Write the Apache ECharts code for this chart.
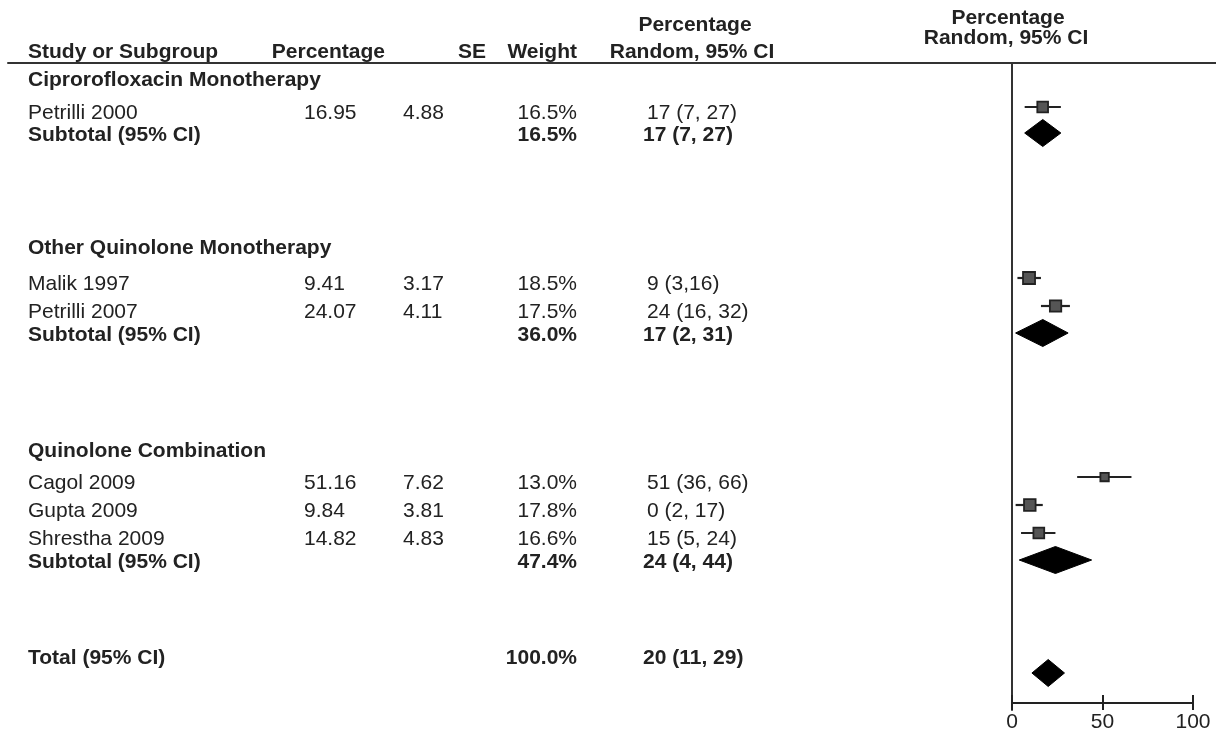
<!DOCTYPE html>
<html><head><meta charset="utf-8">
<script src="https://cdn.jsdelivr.net/npm/echarts@6/dist/echarts.min.js"></script>
<style>html,body{margin:0;padding:0;background:#fff}#c{width:1216px;height:733px}</style>
</head><body><div id="c"></div>
<script>
// ---------------- data ----------------
const groups = ['Ciprorofloxacin Monotherapy', 'Other Quinolone Monotherapy', 'Quinolone Combination'];
const studies = ['Petrilli 2000', 'Malik 1997', 'Petrilli 2007', 'Cagol 2009', 'Gupta 2009', 'Shrestha 2009'];
const studyGroup = [0, 1, 1, 2, 2, 2];
const percentage = [16.95, 9.41, 24.07, 51.16, 9.84, 14.82];
const se = [4.88, 3.17, 4.11, 7.62, 3.81, 4.83];
const weight = [16.5, 18.5, 17.5, 13.0, 17.8, 16.6];
const ciLow = [7, 3, 16, 36, 2, 5];
const ciHigh = [27, 16, 32, 66, 17, 24];
const ciLabels = ['17 (7, 27)', '9 (3,16)', '24 (16, 32)', '51 (36, 66)', '0 (2, 17)', '15 (5, 24)'];
const subtotalWeight = [16.5, 36.0, 47.4];
const subtotalEst = [17, 17, 24];
const subtotalLow = [7, 2, 4];
const subtotalHigh = [27, 31, 44];
const totalWeight = 100.0;
const totalEst = 20;
const totalLow = 11;
const totalHigh = 29;
const xTicks = [0, 50, 100];
const headerLabels = ['Study or Subgroup', 'Percentage', 'SE', 'Weight', 'Percentage', 'Random, 95% CI'];

// ---------------- layout (px below the header rule) ----------------
const groupTextY = [17, 185, 388];
const studyMarkY = [44, 215, 243, 414, 442, 470];
const subMarkY = [70, 270, 497];
const totalMarkY = 610;
const totalTextY = 595;
const studyTextDY = 6, subTextDY = 2;
const col = { name: 28, pct: 304, se: 403, weightR: 577, ci: 647, ciBold: 643 };
const FONT = '"Liberation Sans", Arial, sans-serif';
const F_N = '21px ' + FONT, F_B = 'bold 21px ' + FONT;
const INK = '#222';

// ---------------- build table rows ----------------
const textRows = [];
groups.forEach((g, gi) => {
  textRows.push({ y: groupTextY[gi], cells: [[col.name, g, 'left', F_B]] });
  studies.forEach((s, i) => {
    if (studyGroup[i] !== gi) return;
    textRows.push({ y: studyMarkY[i] + studyTextDY, cells: [
      [col.name, s, 'left', F_N],
      [col.pct, percentage[i].toFixed(2), 'left', F_N],
      [col.se, se[i].toFixed(2), 'left', F_N],
      [col.weightR, weight[i].toFixed(1) + '%', 'right', F_N],
      [col.ci, ciLabels[i], 'left', F_N]
    ]});
  });
  textRows.push({ y: subMarkY[gi] + subTextDY, cells: [
    [col.name, 'Subtotal (95% CI)', 'left', F_B],
    [col.weightR, subtotalWeight[gi].toFixed(1) + '%', 'right', F_B],
    [col.ciBold, subtotalEst[gi] + ' (' + subtotalLow[gi] + ', ' + subtotalHigh[gi] + ')', 'left', F_B]
  ]});
});
textRows.push({ y: totalTextY, cells: [
  [col.name, 'Total (95% CI)', 'left', F_B],
  [col.weightR, totalWeight.toFixed(1) + '%', 'right', F_B],
  [col.ciBold, totalEst + ' (' + totalLow + ', ' + totalHigh + ')', 'left', F_B]
]});

const studyPts = studies.map((s, i) => [percentage[i], studyMarkY[i], ciLow[i], ciHigh[i], weight[i]]);
const diamonds = subtotalEst.map((e, i) => [e, subMarkY[i], subtotalLow[i], subtotalHigh[i]]);
diamonds.push([totalEst, totalMarkY, totalLow, totalHigh]);

const TOP = 63, H = 647;
const chart = echarts.init(document.getElementById('c'), null, { renderer: 'canvas' });

function hdr(text, x, y, align) {
  return { type: 'text', x: x, y: y, silent: true,
    style: { text: text, font: F_B, fill: INK, textAlign: align, align: align, textVerticalAlign: 'middle', verticalAlign: 'middle' } };
}

const option = {
  backgroundColor: '#fff',
  animation: false,
  grid: [
    { left: 1012, width: 181, top: TOP, height: H },
    { left: 8, right: 0, top: TOP, height: H }
  ],
  xAxis: [
    { gridIndex: 0, type: 'value', min: xTicks[0], max: xTicks[2], interval: xTicks[1] - xTicks[0], position: 'bottom', offset: -7,
      axisLine: { show: true, onZero: false, lineStyle: { color: INK, width: 2 } },
      axisTick: { show: true, inside: false, length: 7, lineStyle: { color: INK, width: 2 } },
      axisLabel: { show: true, color: INK, fontSize: 21, fontFamily: FONT, margin: 9 },
      splitLine: { show: false } },
    { gridIndex: 0, type: 'value', min: xTicks[0], max: xTicks[2], interval: xTicks[1] - xTicks[0], position: 'bottom', offset: -7,
      axisLine: { show: false, onZero: false },
      axisTick: { show: true, inside: true, length: 8, lineStyle: { color: INK, width: 2 } },
      axisLabel: { show: false }, splitLine: { show: false } },
    { gridIndex: 1, type: 'value', min: 8, max: 1216, position: 'top',
      axisLine: { show: true, onZero: false, lineStyle: { color: '#333', width: 2 } },
      axisTick: { show: false }, axisLabel: { show: false }, splitLine: { show: false } }
  ],
  yAxis: [
    { gridIndex: 0, type: 'value', min: 0, max: H, inverse: true, position: 'left',
      axisLine: { show: true, onZero: false, lineStyle: { color: '#333', width: 2 } },
      axisTick: { show: false }, axisLabel: { show: false }, splitLine: { show: false } },
    { gridIndex: 1, type: 'value', min: 0, max: H, inverse: true, show: false }
  ],
  graphic: [
    hdr(headerLabels[0], col.name, 52, 'left'),
    hdr(headerLabels[1], 385, 52, 'right'),
    hdr(headerLabels[2], 486, 52, 'right'),
    hdr(headerLabels[3], 577, 52, 'right'),
    hdr(headerLabels[4], 695, 25, 'center'),
    hdr(headerLabels[5], 692, 52, 'center'),
    hdr(headerLabels[4], 1008, 18, 'center'),
    hdr(headerLabels[5], 1006, 38, 'center')
  ],
  series: [
    { // table text
      type: 'custom', xAxisIndex: 2, yAxisIndex: 1, clip: false, silent: true,
      data: textRows.map((r, i) => [i]),
      renderItem: function (params, api) {
        const r = textRows[api.value(0)];
        return { type: 'group', children: r.cells.map(c => {
          const p = api.coord([c[0], r.y]);
          return { type: 'text', x: p[0], y: p[1],
            style: { text: c[1], font: c[3], fill: INK, textAlign: c[2], align: c[2], textVerticalAlign: 'middle', verticalAlign: 'middle' } };
        }) };
      }
    },
    { // confidence interval whiskers
      type: 'custom', xAxisIndex: 0, yAxisIndex: 0, clip: false, silent: true,
      data: studyPts,
      encode: { x: [2, 3], y: 1 },
      renderItem: function (params, api) {
        const a = api.coord([api.value(2), api.value(1)]);
        const b = api.coord([api.value(3), api.value(1)]);
        return { type: 'line', shape: { x1: a[0], y1: a[1], x2: b[0], y2: b[1] },
          style: { stroke: INK, lineWidth: 2.2 } };
      }
    },
    { // study point estimates
      type: 'scatter', xAxisIndex: 0, yAxisIndex: 0, silent: true,
      symbol: 'rect',
      symbolSize: function (v) { return v[4] * 0.65; },
      data: studyPts,
      itemStyle: { color: '#555', borderColor: INK, borderWidth: 1.8, opacity: 1 }
    },
    { // pooled diamonds
      type: 'custom', xAxisIndex: 0, yAxisIndex: 0, clip: false, silent: true,
      data: diamonds,
      encode: { x: [2, 3], y: 1 },
      renderItem: function (params, api) {
        const y = api.value(1);
        const l = api.coord([api.value(2), y]);
        const c = api.coord([api.value(0), y]);
        const r = api.coord([api.value(3), y]);
        const h = 13.5;
        return { type: 'polygon',
          shape: { points: [[l[0], l[1]], [c[0], c[1] - h], [r[0], r[1]], [c[0], c[1] + h]] },
          style: { fill: '#000', stroke: '#000', lineWidth: 1 } };
      }
    }
  ]
};
chart.setOption(option);
</script>
</body></html>
